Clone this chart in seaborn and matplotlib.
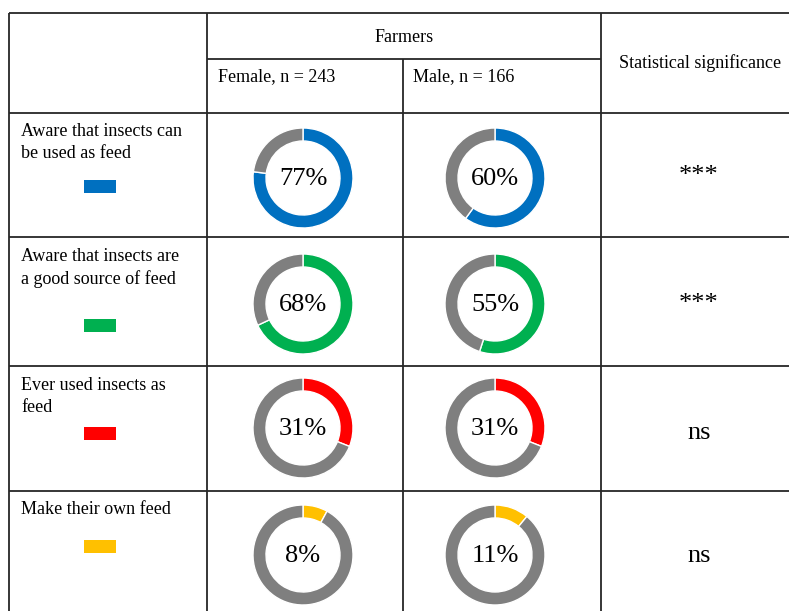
import matplotlib
matplotlib.use("Agg")
import matplotlib.pyplot as plt
import seaborn as sns

row_labels = ["Aware that insects can\nbe used as feed",
              "Aware that insects are\na good source of feed",
              "Ever used insects as\nfeed",
              "Make their own feed"]
female_pct = [77, 68, 31, 8]
male_pct = [60, 55, 31, 11]
significance = ["***", "***", "ns", "ns"]
row_colors = ["#0070C0", "#00B050", "#FF0000", "#FFC000"]
col_headers = ["Female, n = 243", "Male, n = 166"]

sns.set_theme(style="white")
plt.rcParams["font.family"] = ["Liberation Serif", "DejaVu Serif"]
plt.rcParams["text.color"] = "black"

W, H = 789, 611
fig = plt.figure(figsize=(W / 100, H / 100), dpi=100)
ax = fig.add_axes([0, 0, 1, 1])

LC = "#262626"
LW = 1.3
FS = 13
# table grid (pixel layout)
row_y = [113, 237, 366, 491]
ax.hlines(13, 9, W, color=LC, lw=LW)
ax.hlines(59, 207, 601, color=LC, lw=LW)
ax.hlines(row_y, 9, W, color=LC, lw=LW)
ax.vlines([9, 207, 601], 13, H, color=LC, lw=LW)
ax.vlines(403, 59, H, color=LC, lw=LW)

# header
ax.text(404, 37, "Farmers", ha="center", va="center", fontsize=FS)
ax.text(218, 77, col_headers[0], ha="left", va="center", fontsize=FS)
ax.text(413, 77, col_headers[1], ha="left", va="center", fontsize=FS)
ax.text(700, 63, "Statistical significance", ha="center", va="center", fontsize=FS)

label_top = [123, 248, 377, 501]
swatch_y = [186, 325, 433, 546]
donut_y = [178, 304, 428, 555]
sig_y = [176, 304, 433, 556]
cols_x = [303, 495]

for i in range(len(row_labels)):
    ax.text(21, label_top[i], row_labels[i], ha="left", va="top",
            fontsize=FS, linespacing=1.35)
    ax.add_patch(plt.Rectangle((84, swatch_y[i] - 6.5), 32, 13,
                               color=row_colors[i], lw=0))
    for cx, pct in zip(cols_x, [female_pct[i], male_pct[i]]):
        # y axis is inverted, so start at -90 and go "counterclockwise"
        ax.pie([pct, 100 - pct], colors=[row_colors[i], "#7F7F7F"],
               startangle=-90, counterclock=True,
               center=(cx, donut_y[i]), radius=50, frame=True,
               wedgeprops=dict(width=13, edgecolor="white", linewidth=1))
        ax.text(cx, donut_y[i] + 1, f"{pct}%", ha="center", va="center",
                fontsize=19)
    ax.text(699, sig_y[i], significance[i], ha="center", va="center",
            fontsize=19)

ax.set_xlim(0, W)
ax.set_ylim(H, 0)
ax.set_aspect("auto")
ax.set_xticks([])
ax.set_yticks([])
ax.axis("off")

fig.savefig("out.png", dpi=100, facecolor="white")
